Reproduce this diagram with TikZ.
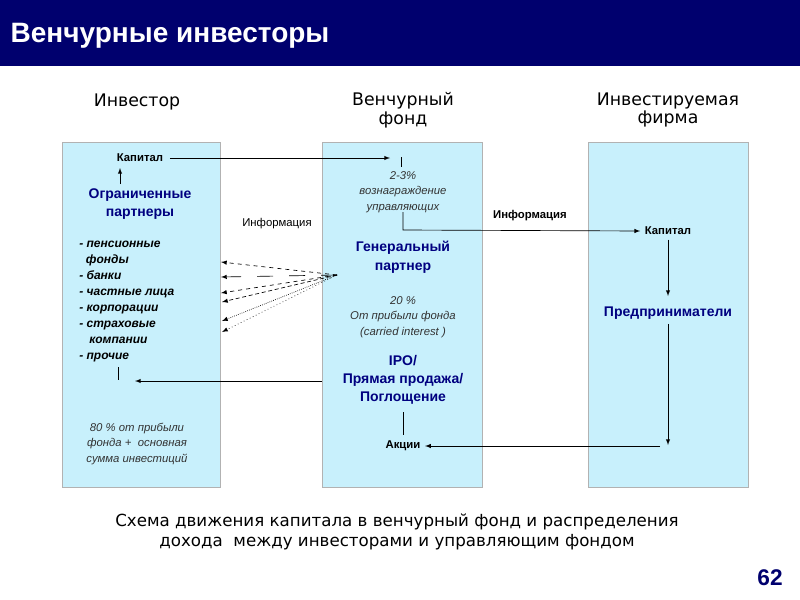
\documentclass[tikz,border=0pt]{standalone}
\usepackage{fontspec}
\setmainfont{Liberation Sans}
\newfontfamily\dv{DejaVu Sans}
\begin{document}
\begin{tikzpicture}[x=0.75pt,y=-0.75pt,
  col/.style={fill=boxc,draw=gray!60,line width=0.4pt},
  hd/.style={font=\dv\fontsize{13}{14}\selectfont,align=center,text=black},
  nv/.style={font=\fontsize{10.5}{14}\selectfont\bfseries,text=navy,align=center},
  sm/.style={font=\fontsize{8.5}{9}\selectfont,align=center},
  it/.style={font=\fontsize{8.5}{11.5}\selectfont\itshape,text=black!80,align=center},
  ar/.style={->,>=latex,line width=0.5pt}]
\definecolor{navy}{RGB}{0,0,128}
\definecolor{boxc}{RGB}{200,240,252}
\definecolor{bar}{RGB}{0,0,110}
\useasboundingbox (0,0) rectangle (800,600);
\fill[bar] (0,0) rectangle (800,66);
\node[anchor=west,text=white,font=\fontsize{21}{24}\selectfont\bfseries] (title) at (6,36) {Венчурные инвесторы};
\draw[col] (62,142) rectangle (220,487);
\draw[col] (322,142) rectangle (482,487);
\draw[col] (588,142) rectangle (748,487);
\node[hd] (h1) at (137,102) {Инвестор};
\node[hd] (h2) at (403,110) {Венчурный\\фонд};
\node[hd] (h3) at (668,110) {Инвестируемая\\фирма};
% left
\node[sm,font=\fontsize{8.5}{9}\selectfont\bfseries] (k1) at (140,158) {Капитал};
\node[nv] (op) at (140,204) {Ограниченные\\партнеры};
\draw[ar] (120,184) -- (120,168);
\node[anchor=north west,font=\fontsize{9}{12}\selectfont\bfseries\itshape,align=left,inner sep=0] (lst) at (79,241) {- пенсионные\\\ \ фонды\\- банки\\- частные лица\\- корпорации\\- страховые\\\ \ \ компании\\- прочие};
\node[it] (p80) at (137,444) {80 \% от прибыли\\фонда +\ \ основная\\сумма инвестиций};
\draw (118,367) -- (118,380);
% middle
\node[it] (fee) at (403,192) {2-3\%\\вознаграждение\\управляющих};
\draw (401,157) -- (401,167);
\node[nv] (gp) at (403,257) {Генеральный\\партнер};
\node[it] (p20) at (403,317) {20 \%\\От прибыли фонда\\(carried interest )};
\node[nv,font=\fontsize{10.5}{13.5}\selectfont\bfseries] (ipo) at (403,380) {IPO/\\Прямая продажа/\\Поглощение};
\node[sm,font=\fontsize{8.5}{9}\selectfont\bfseries] (ak) at (403,446) {Акции};
\draw (403,412) -- (403,435);
% right
\node[sm,font=\fontsize{8.5}{9}\selectfont\bfseries] (k2) at (668,231) {Капитал};
\node[nv] (pr) at (668,313) {Предприниматели};
\coordinate (rb) at (668,445);
% labels
\node[sm] (i1) at (277,224) {Информация};
\node[sm,font=\fontsize{8.5}{9}\selectfont\bfseries] (i2) at (530,216) {Информация};
% arrows
\draw[ar] (k1.east)++(2,0) -- (390,158);
\draw[ar] (403,212) -- (403,230) -- (k2.west);
\draw[ar] (k2.south) -- (668,296);
\draw[ar] (pr.south) -- (rb);
\draw[ar] (660,446) -- (ak.east);
\draw[ar] (322,381) -- (135,381);
\coordinate (src) at (337,275);
\draw[ar,dashed] (src) -- (221,262);
\draw[ar,dash pattern=on 12pt off 12pt] (src) -- (221,277);
\draw[ar,dashed] (src) -- (221,293);
\draw[ar,densely dashed] (src) -- (222,302);
\draw[ar,densely dotted] (src) -- (222,321);
\draw[ar,dotted] (src) -- (222,332);
\node[font=\dv\fontsize{12.5}{15}\selectfont,align=center] (cap) at (397,532) {Схема движения капитала в венчурный фонд и распределения\\дохода\ \ между инвесторами и управляющим фондом};
\node[font=\fontsize{17}{20}\selectfont\bfseries,text=bar] (num) at (770,578) {62};
\end{tikzpicture}
\end{document}
